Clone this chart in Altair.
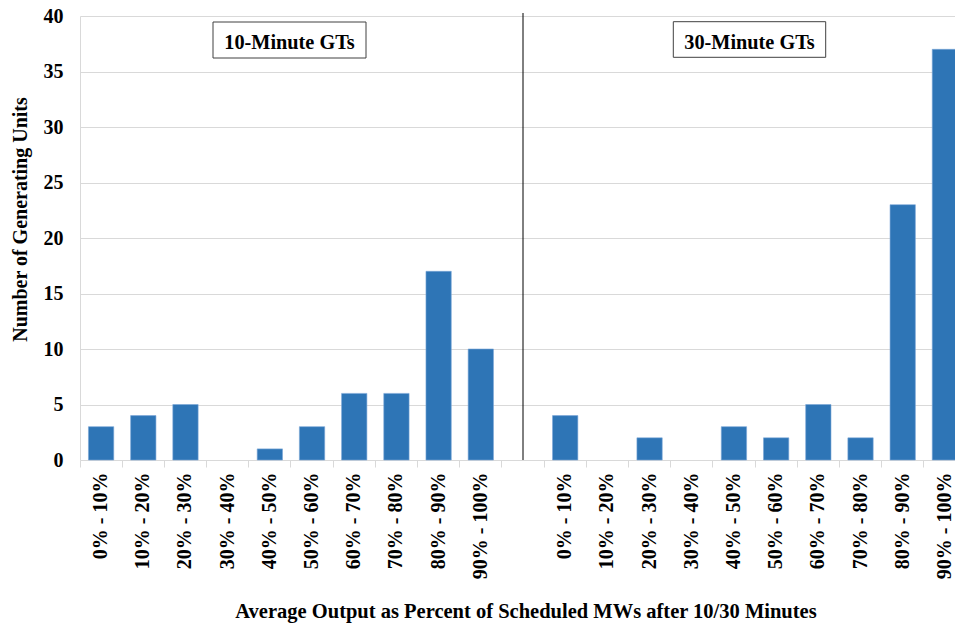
import altair as alt
import pandas as pd

# ---- data ----
bins = ["0% - 10%", "10% - 20%", "20% - 30%", "30% - 40%", "40% - 50%",
        "50% - 60%", "60% - 70%", "70% - 80%", "80% - 90%", "90% - 100%"]
counts_10min = [3, 4, 5, 0, 1, 3, 6, 6, 17, 10]
counts_30min = [4, 0, 2, 0, 3, 2, 5, 2, 23, 37]
group_names = ["10-Minute GTs", "30-Minute GTs"]
y_ticks = [0, 5, 10, 15, 20, 25, 30, 35, 40]

keys_10 = ["10|" + b for b in bins]
keys_30 = ["30|" + b for b in bins]
gap_key = "gap"
domain = keys_10 + [gap_key] + keys_30

df = pd.DataFrame({
    "key": keys_10 + keys_30,
    "count": counts_10min + counts_30min,
})

FONT = "Liberation Serif"
BLUE = "#2E75B6"
GRID = "#d9d9d9"

# the category band runs slightly past the right edge of the picture (cropped, as in the reference)
x_scale = alt.Scale(domain=domain, paddingInner=0, paddingOuter=0,
                    range=[0, alt.ExprRef("886")])
y_scale = alt.Scale(domain=[0, 40], nice=False)

x_axis = alt.Axis(
    title="Average Output as Percent of Scheduled MWs after 10/30 Minutes",
    labelExpr="indexof(datum.label, '|') >= 0 ? split(datum.label, '|')[1] : ''",
    labelAngle=270, labelFont=FONT, labelFontSize=20, labelFontWeight="bold",
    labelColor="black", labelPadding=5, labelOverlap=False, labelFlush=False,
    bandPosition=0, tickExtra=False, tickSize=7, tickColor=GRID, domain=False,
    grid=False, titleFont=FONT, titleFontSize=20.5, titleFontWeight="bold",
    titleColor="black", titleBaseline="alphabetic", titleY=157,
    titleX=445.5,
)
y_axis = alt.Axis(
    title="Number of Generating Units", values=y_ticks,
    labelFont=FONT, labelFontSize=20, labelFontWeight="bold", labelColor="black",
    labelPadding=17, ticks=False, tickSize=0, domainColor=GRID,
    grid=True, gridColor=GRID, titleFont=FONT, titleFontSize=20,
    titleFontWeight="bold", titleColor="black", titleAngle=270,
    titleBaseline="alphabetic", titleX=-54, titleY=203,
)

bars = alt.Chart(df).transform_filter("datum.count > 0").mark_bar(
    color=BLUE, width=alt.RelativeBandSize(0.6), stroke="#7aa6d6", strokeWidth=0.6
).encode(
    x=alt.X("key:N", scale=x_scale, axis=x_axis, sort=domain),
    y=alt.Y("count:Q", scale=y_scale, axis=y_axis),
)

divider = alt.Chart(pd.DataFrame({"key": [gap_key]})).mark_rule(
    color="black", strokeWidth=1
).encode(
    x=alt.X("key:N", scale=x_scale, sort=domain),
    y=alt.datum(0),
    y2=alt.datum(40.27),
)

def label_box(text, x0, x1, y0, y1, xc, yb):
    box = alt.Chart(pd.DataFrame({"t": [text]})).mark_rect(
        fill="white", stroke="#404040", strokeWidth=1
    ).encode(x=alt.value(x0), x2=alt.value(x1), y=alt.value(y0), y2=alt.value(y1))
    txt = alt.Chart(pd.DataFrame({"t": [text]})).mark_text(
        font=FONT, fontSize=20.3, fontWeight="bold", color="black",
        align="center", baseline="alphabetic"
    ).encode(x=alt.value(xc), y=alt.value(yb), text="t:N")
    return box + txt

chart = alt.layer(
    bars,
    divider,
    label_box(group_names[0], 133, 286, 6, 42, 209.5, 33.3),
    label_box(group_names[1], 593.3, 745.7, 5.7, 41.3, 669.5, 33.3),
).properties(
    width=875, height=444,
    autosize=alt.AutoSizeParams(type="none"),
    padding={"left": 72, "top": 8, "right": 0, "bottom": 164},
    background="white",
).configure_view(stroke=None)

chart.save("out.html", embed_options={"renderer": "svg", "actions": False})
